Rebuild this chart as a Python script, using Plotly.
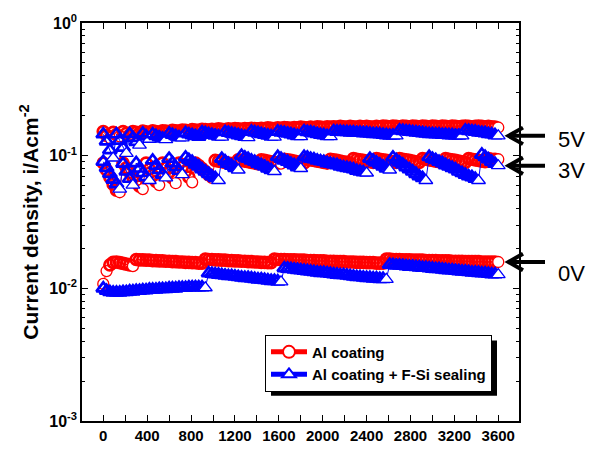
import plotly.graph_objects as go
import math

# time grid (s)
t = list(range(0, 3601, 30))

# Al coating (red circles)
r0 = [0.0108, 0.0135, 0.0150, 0.0157, 0.0158, 0.0156, 0.0154, 0.0152, 0.0150, 0.0147,
      0.0165, 0.0164, 0.0164, 0.0163, 0.0163, 0.0162, 0.0162, 0.0161, 0.0161, 0.0160,
      0.0160, 0.0159, 0.0159, 0.0158, 0.0158, 0.0157, 0.0157, 0.0156, 0.0156, 0.0155,
      0.0155, 0.0166, 0.0165, 0.0165, 0.0164, 0.0164, 0.0163, 0.0163, 0.0162, 0.0162,
      0.0161, 0.0161, 0.0160, 0.0160, 0.0159, 0.0159, 0.0158, 0.0158, 0.0157, 0.0157,
      0.0156, 0.0156, 0.0166, 0.0165, 0.0165, 0.0165, 0.0164, 0.0164, 0.0164, 0.0163,
      0.0163, 0.0163, 0.0162, 0.0162, 0.0162, 0.0161, 0.0161, 0.0161, 0.0160, 0.0160,
      0.0160, 0.0159, 0.0159, 0.0159, 0.0158, 0.0158, 0.0158, 0.0157, 0.0157, 0.0157,
      0.0156, 0.0156, 0.0156, 0.0155, 0.0155, 0.0155, 0.0166, 0.0166, 0.0165, 0.0165,
      0.0165, 0.0164, 0.0164, 0.0164, 0.0163, 0.0163, 0.0163, 0.0163, 0.0162, 0.0162,
      0.0162, 0.0162, 0.0161, 0.0161, 0.0161, 0.0161, 0.0160, 0.0160, 0.0160, 0.0160,
      0.0159, 0.0159, 0.0159, 0.0159, 0.0159, 0.0158, 0.0158, 0.0158, 0.0158, 0.0158,
      0.0158]

r3 = [0.088, 0.078, 0.069, 0.061, 0.055, 0.053, 0.088, 0.081, 0.075, 0.069,
      0.063, 0.059, 0.056, 0.088, 0.079, 0.071, 0.064, 0.060, 0.088, 0.081,
      0.075, 0.068, 0.062, 0.088, 0.082, 0.076, 0.069, 0.063, 0.088, 0.084,
      0.080, 0.076, 0.072, 0.068, 0.092, 0.091, 0.090, 0.089, 0.088, 0.087,
      0.086, 0.093, 0.092, 0.091, 0.090, 0.089, 0.088, 0.087, 0.093, 0.092,
      0.091, 0.090, 0.089, 0.088, 0.087, 0.094, 0.093, 0.092, 0.091, 0.090,
      0.089, 0.088, 0.094, 0.093, 0.092, 0.091, 0.090, 0.089, 0.088, 0.094,
      0.093, 0.092, 0.091, 0.090, 0.089, 0.088, 0.095, 0.094, 0.093, 0.092,
      0.091, 0.090, 0.089, 0.095, 0.094, 0.093, 0.092, 0.091, 0.090, 0.089,
      0.095, 0.094, 0.093, 0.092, 0.091, 0.090, 0.089, 0.095, 0.094, 0.093,
      0.092, 0.091, 0.090, 0.089, 0.095, 0.094, 0.093, 0.092, 0.091, 0.090,
      0.089, 0.095, 0.094, 0.093, 0.092, 0.091, 0.090, 0.095, 0.094, 0.094,
      0.094]

r5 = [0.152, 0.142, 0.136, 0.150, 0.144, 0.140, 0.152, 0.147, 0.143, 0.152,
      0.150, 0.148, 0.153, 0.151, 0.149, 0.154, 0.152, 0.150, 0.154, 0.153,
      0.152, 0.155, 0.154, 0.153, 0.156, 0.155, 0.154, 0.157, 0.156, 0.155,
      0.158, 0.157, 0.156, 0.158, 0.157, 0.159, 0.158, 0.157, 0.159, 0.158,
      0.160, 0.159, 0.158, 0.160, 0.159, 0.161, 0.160, 0.159, 0.161, 0.160,
      0.162, 0.161, 0.160, 0.162, 0.161, 0.163, 0.162, 0.161, 0.163, 0.162,
      0.164, 0.163, 0.162, 0.164, 0.163, 0.165, 0.164, 0.163, 0.165, 0.164,
      0.165, 0.164, 0.166, 0.165, 0.164, 0.166, 0.165, 0.164, 0.166, 0.165,
      0.166, 0.165, 0.164, 0.166, 0.165, 0.167, 0.166, 0.165, 0.167, 0.166,
      0.165, 0.167, 0.166, 0.165, 0.167, 0.166, 0.165, 0.167, 0.166, 0.165,
      0.167, 0.166, 0.165, 0.167, 0.166, 0.165, 0.167, 0.166, 0.165, 0.166,
      0.167, 0.166, 0.165, 0.166, 0.167, 0.166, 0.165, 0.166, 0.165, 0.164,
      0.163]

# Al coating + F-Si sealing (blue triangles)
b0 = [0.0100, 0.0096, 0.0094, 0.0093, 0.0093, 0.0093, 0.0094, 0.0094, 0.0095, 0.0095,
      0.0096, 0.0096, 0.0097, 0.0097, 0.0098, 0.0098, 0.0098, 0.0099, 0.0099, 0.0099,
      0.0100, 0.0100, 0.0100, 0.0101, 0.0101, 0.0101, 0.0102, 0.0102, 0.0102, 0.0102,
      0.0102, 0.0101, 0.0130, 0.0129, 0.0128, 0.0127, 0.0126, 0.0125, 0.0124, 0.0124,
      0.0123, 0.0122, 0.0121, 0.0120, 0.0120, 0.0119, 0.0118, 0.0117, 0.0117, 0.0116,
      0.0115, 0.0114, 0.0114, 0.0113, 0.0112, 0.0142, 0.0141, 0.0140, 0.0139, 0.0138,
      0.0137, 0.0136, 0.0135, 0.0134, 0.0133, 0.0132, 0.0131, 0.0131, 0.0130, 0.0129,
      0.0128, 0.0127, 0.0126, 0.0126, 0.0125, 0.0124, 0.0123, 0.0122, 0.0122, 0.0121,
      0.0120, 0.0120, 0.0119, 0.0119, 0.0118, 0.0118, 0.0117, 0.0151, 0.0150, 0.0149,
      0.0149, 0.0148, 0.0147, 0.0146, 0.0146, 0.0145, 0.0144, 0.0143, 0.0143, 0.0142,
      0.0141, 0.0140, 0.0140, 0.0139, 0.0138, 0.0137, 0.0137, 0.0136, 0.0135, 0.0134,
      0.0134, 0.0133, 0.0132, 0.0132, 0.0131, 0.0130, 0.0130, 0.0129, 0.0128, 0.0128,
      0.0127]

b3 = [0.090, 0.081, 0.073, 0.066, 0.061, 0.056, 0.087, 0.076, 0.067, 0.060,
      0.088, 0.080, 0.074, 0.069, 0.065, 0.092, 0.084, 0.078, 0.072, 0.068,
      0.095, 0.088, 0.082, 0.077, 0.072, 0.097, 0.093, 0.090, 0.086, 0.083,
      0.079, 0.076, 0.073, 0.070, 0.068, 0.065, 0.095, 0.091, 0.087, 0.084,
      0.081, 0.078, 0.100, 0.097, 0.095, 0.092, 0.090, 0.087, 0.085, 0.083,
      0.080, 0.078, 0.076, 0.098, 0.095, 0.092, 0.090, 0.087, 0.085, 0.082,
      0.080, 0.098, 0.097, 0.095, 0.094, 0.092, 0.091, 0.090, 0.088, 0.087,
      0.086, 0.085, 0.083, 0.082, 0.081, 0.080, 0.079, 0.077, 0.076, 0.075,
      0.074, 0.095, 0.092, 0.089, 0.086, 0.083, 0.080, 0.078, 0.097, 0.093,
      0.089, 0.086, 0.082, 0.079, 0.076, 0.073, 0.070, 0.068, 0.065, 0.098,
      0.095, 0.093, 0.090, 0.088, 0.085, 0.083, 0.081, 0.079, 0.076, 0.074,
      0.072, 0.070, 0.069, 0.067, 0.065, 0.102, 0.098, 0.094, 0.090, 0.087,
      0.084]

b5 = [0.145, 0.128, 0.110, 0.096, 0.145, 0.130, 0.115, 0.104, 0.146, 0.136,
      0.127, 0.120, 0.147, 0.140, 0.133, 0.145, 0.141, 0.138, 0.135, 0.132,
      0.147, 0.144, 0.141, 0.138, 0.136, 0.148, 0.145, 0.143, 0.141, 0.139,
      0.150, 0.148, 0.146, 0.144, 0.142, 0.140, 0.138, 0.151, 0.149, 0.147,
      0.145, 0.143, 0.141, 0.139, 0.137, 0.152, 0.150, 0.148, 0.146, 0.144,
      0.142, 0.140, 0.138, 0.152, 0.150, 0.149, 0.147, 0.145, 0.143, 0.141,
      0.139, 0.153, 0.151, 0.150, 0.148, 0.146, 0.144, 0.143, 0.141, 0.139,
      0.153, 0.152, 0.152, 0.151, 0.151, 0.150, 0.150, 0.149, 0.149, 0.148,
      0.148, 0.147, 0.146, 0.146, 0.145, 0.144, 0.143, 0.142, 0.142, 0.141,
      0.155, 0.154, 0.153, 0.152, 0.151, 0.150, 0.149, 0.148, 0.147, 0.146,
      0.146, 0.145, 0.145, 0.144, 0.144, 0.143, 0.143, 0.142, 0.142, 0.141,
      0.155, 0.154, 0.153, 0.152, 0.150, 0.149, 0.148, 0.146, 0.145, 0.143,
      0.141]

series_names = ["Al coating", "Al coating + F-Si sealing"]
x_tick_vals = list(range(0, 3601, 400))
x_tick_text = [str(v) for v in x_tick_vals]
x_minor_vals = list(range(200, 3601, 400))
y_tick_vals = [1e-3, 1e-2, 1e-1, 1]
y_tick_text = ["10<sup>-3</sup>", "10<sup>-2</sup>", "10<sup>-1</sup>", "10<sup>0</sup>"]
y_minor_vals = [m * 10 ** e for e in (-3, -2, -1) for m in range(2, 10)]
voltage_labels = ["5V", "3V", "0V"]

FONT = "Liberation Sans, Arial, sans-serif"
RED = "#ff0000"
BLUE = "#0000ff"


def exposed(ys):
    # markers left uncovered: segment ends before an upward step, and the last point
    return [i == len(ys) - 1 or ys[i + 1] > v * 1.08 for i, v in enumerate(ys)]


def fills(ys):
    return ["white" if e else "rgba(255,255,255,0)" for e in exposed(ys)]


def widths(ys):
    return [1.3 if e else 2.7 for e in exposed(ys)]


fig = go.Figure()

for ys in [r0, r3, r5]:
    fig.add_trace(go.Scatter(x=t, y=ys, mode="lines+markers", name=series_names[0],
                             legendgroup="red", showlegend=False,
                             line=dict(color=RED, width=1),
                             marker=dict(symbol="circle", size=11, color=fills(ys),
                                         line=dict(color=RED, width=widths(ys)))))
for ys in [b0, b3, b5]:
    fig.add_trace(go.Scatter(x=t, y=ys, mode="lines+markers", name=series_names[1],
                             legendgroup="blue", showlegend=False,
                             line=dict(color=BLUE, width=1),
                             marker=dict(symbol="triangle-up", size=12, color=fills(ys),
                                         line=dict(color=BLUE, width=widths(ys)))))

# legend entries (thin symbols as in the reference key)
fig.add_trace(go.Scatter(x=[None], y=[None], mode="lines+markers", name=series_names[0],
                         legendgroup="red", line=dict(color=RED, width=1),
                         marker=dict(symbol="circle", size=11, color="white", line=dict(color=RED, width=1))))
fig.add_trace(go.Scatter(x=[None], y=[None], mode="lines+markers", name=series_names[1],
                         legendgroup="blue", line=dict(color=BLUE, width=1),
                         marker=dict(symbol="triangle-up", size=13, color="white", line=dict(color=BLUE, width=1))))

# arrows + voltage labels (paper coordinates; y follows the end of each series)
PX_W, PX_H = 437.0, 410.0
def py(v):
    return (math.log10(v) + 3.0) / 3.0

shapes = []
annotations = []
label_dy = [-4, -5, -12]
for lab, ys, dy in zip(voltage_labels, [b5, b3, r0], label_dy):
    yp = py(ys[-1])
    tip = (507 - 82) / PX_W
    tail = (545 - 82) / PX_W
    arm_x = tip + 16 / PX_W
    arm_y = 8.5 / PX_H
    shapes.append(dict(type="line", xref="paper", yref="paper", x0=tip + 3 / PX_W, x1=tail,
                       y0=yp, y1=yp, line=dict(color="black", width=4)))
    shapes.append(dict(type="path", xref="paper", yref="paper",
                       path=f"M {arm_x},{yp + arm_y} L {tip + 1.5 / PX_W},{yp} L {arm_x},{yp - arm_y}",
                       line=dict(color="black", width=4)))
    annotations.append(dict(x=(571 - 82) / PX_W, y=yp + dy / PX_H, xref="paper", yref="paper", text=lab,
                            showarrow=False, xanchor="center", yanchor="middle",
                            font=dict(family=FONT, size=22, color="black")))

# legend drop shadow
shapes.append(dict(type="rect", xref="paper", yref="paper",
                   x0=(271 - 82) / PX_W, x1=(497 - 82) / PX_W,
                   y0=(426 - 400) / PX_H, y1=(426 - 343) / PX_H,
                   fillcolor="black", line=dict(width=0), layer="above"))

fig.update_layout(
    width=599, height=456,
    margin=dict(l=82, r=80, t=16, b=30),
    paper_bgcolor="white", plot_bgcolor="white",
    font=dict(family=FONT, color="black"),
    showlegend=True,
    legend=dict(x=(265 - 82) / PX_W, y=(426 - 337) / PX_H, xanchor="left", yanchor="top",
                bgcolor="white", bordercolor="black", borderwidth=1,
                font=dict(family=FONT, size=15, color="black", weight="bold"),
                tracegroupgap=0, itemsizing="constant", itemwidth=36),
    annotations=annotations,
    shapes=shapes,
)

fig.update_xaxes(range=[-194, 3789], tickmode="array", tickvals=x_tick_vals, ticktext=x_tick_text,
                 ticks="inside", ticklen=6, tickwidth=1, tickcolor="black",
                 minor=dict(tickvals=x_minor_vals, ticks="inside", ticklen=6, tickcolor="black", tickwidth=1),
                 showline=True, linecolor="black", linewidth=1.5, mirror="ticks",
                 showgrid=False, zeroline=False,
                 tickfont=dict(family=FONT, size=15, color="black", weight="bold"))
fig.update_yaxes(type="log", range=[-3, 0], tickmode="array", tickvals=y_tick_vals, ticktext=y_tick_text,
                 ticks="inside", ticklen=6, tickwidth=1, tickcolor="black",
                 minor=dict(tickvals=y_minor_vals, ticks="inside", ticklen=3, tickcolor="black", tickwidth=1),
                 showline=True, linecolor="black", linewidth=1.5, mirror="ticks",
                 showgrid=False, zeroline=False,
                 tickfont=dict(family=FONT, size=16, color="black", weight="bold"),
                 title=dict(text="Current density, i/Acm<sup>-2</sup>", standoff=5,
                            font=dict(family=FONT, size=21, color="black", weight="bold")))

fig.write_html("out.html")
